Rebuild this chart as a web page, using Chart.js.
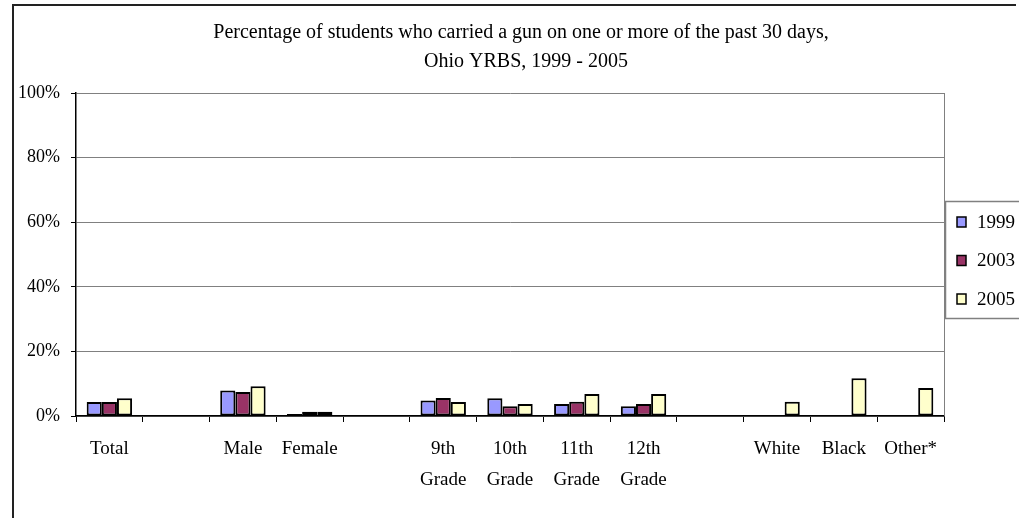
<!DOCTYPE html>
<html>
<head>
<meta charset="utf-8">
<title>Ohio YRBS - carried a gun</title>
<script src="https://cdn.jsdelivr.net/npm/chart.js@4/dist/chart.umd.min.js"></script>
<style>
    html, body { margin: 0; padding: 0; background: #fff; }
    #gunChart { display: block; }
</style>
</head>
<body>
<canvas id="gunChart" width="1019" height="518"></canvas>
<script>
// chart data
const categories = ['Total', '', 'Male', 'Female', '', ['9th', 'Grade'], ['10th', 'Grade'], ['11th', 'Grade'], ['12th', 'Grade'], '', 'White', 'Black', 'Other*'];
const years = ['1999', '2003', '2005'];
const pct1999 = [4.3, null, 7.9, 0.6, null, 4.8, 5.5, 3.7, 3.0, null, null, null, null];
const pct2003 = [4.3, null, 7.4, 1.3, null, 5.6, 3.0, 4.4, 3.7, null, null, null, null];
const pct2005 = [5.5, null, 9.2, 1.3, null, 4.3, 3.7, 6.8, 6.8, null, 4.4, 11.7, 8.7];
const yTicks = [0, 20, 40, 60, 80, 100];
const titleLines = ['Percentage of students who carried a gun on one or more of the past 30 days,', 'Ohio YRBS, 1999 - 2005'];

const colors = ['#9999FF', '#993366', '#FFFFCC'];
const fontFamily = '"Liberation Serif", "Times New Roman", serif';

// frame, title, plot border and legend box (Excel style)
const extrasPlugin = {
    id: 'extras',
    afterDraw(chart) {
        const ctx = chart.ctx;
        const area = chart.chartArea;
        ctx.save();

        // outer frame (only top and left are visible)
        ctx.strokeStyle = '#222';
        ctx.lineWidth = 2;
        ctx.beginPath();
        ctx.moveTo(13, 518);
        ctx.lineTo(13, 5);
        ctx.lineTo(1016, 5);
        ctx.stroke();

        // right edge of the plot area
        ctx.strokeStyle = '#808080';
        ctx.lineWidth = 1;
        ctx.beginPath();
        ctx.moveTo(area.right + 0.5, area.top);
        ctx.lineTo(area.right + 0.5, area.bottom);
        ctx.stroke();

        // title
        ctx.fillStyle = '#000';
        ctx.font = '20px ' + fontFamily;
        ctx.textAlign = 'center';
        ctx.textBaseline = 'middle';
        ctx.fillText(titleLines[0], 521, 33);
        ctx.fillText(titleLines[1], 526, 62);

        // legend
        ctx.strokeStyle = '#808080';
        ctx.lineWidth = 1.5;
        ctx.strokeRect(945.5, 201.5, 80, 117);
        ctx.font = '19px ' + fontFamily;
        ctx.textAlign = 'left';
        chart.data.datasets.forEach((ds, i) => {
            const y = 222 + i * 38.5;
            ctx.fillStyle = ds.backgroundColor;
            ctx.fillRect(957, y - 5, 9, 10);
            ctx.strokeStyle = '#000';
            ctx.lineWidth = 1.5;
            ctx.strokeRect(957, y - 5, 9, 10);
            ctx.fillStyle = '#000';
            ctx.fillText(ds.label, 977, y + 1);
        });
        ctx.restore();
    }
};

function renderChart() {
    const datasets = [pct1999, pct2003, pct2005].map((values, i) => ({
        label: years[i],
        data: values,
        backgroundColor: colors[i],
        borderColor: '#000',
        borderWidth: 2,
        borderSkipped: false,
        categoryPercentage: 0.68,
        barPercentage: 1.0
    }));

    const ctx = document.getElementById('gunChart').getContext('2d');
    new Chart(ctx, {
        type: 'bar',
        data: {
            labels: categories,
            datasets: datasets
        },
        options: {
            responsive: false,
            animation: false,
            layout: {
                padding: { left: 0, top: 93, right: 75, bottom: 0 }
            },
            plugins: {
                legend: { display: false },
                title: { display: false },
                tooltip: { enabled: false }
            },
            scales: {
                x: {
                    grid: {
                        offset: true,
                        drawOnChartArea: false,
                        drawTicks: true,
                        tickLength: 6,
                        tickColor: '#000'
                    },
                    border: { color: '#000', width: 1.5 },
                    ticks: {
                        color: '#000',
                        padding: 12,
                        autoSkip: false,
                        maxRotation: 0,
                        font: { family: fontFamily, size: 19, lineHeight: 1.6 }
                    },
                    afterFit(scale) {
                        scale.height = 102;
                    }
                },
                y: {
                    min: 0,
                    max: 100,
                    afterBuildTicks(scale) {
                        scale.ticks = yTicks.map(v => ({ value: v }));
                    },
                    grid: {
                        color: '#808080',
                        tickColor: '#000',
                        tickLength: 5,
                        lineWidth: 1
                    },
                    border: { color: '#000', width: 1.5 },
                    ticks: {
                        color: '#000',
                        padding: 11,
                        font: { family: fontFamily, size: 18 },
                        callback: value => value + '%'
                    },
                    afterFit(scale) {
                        scale.width = 76;
                    }
                }
            }
        },
        plugins: [extrasPlugin]
    });
}

document.addEventListener('DOMContentLoaded', renderChart);
</script>
</body>
</html>
